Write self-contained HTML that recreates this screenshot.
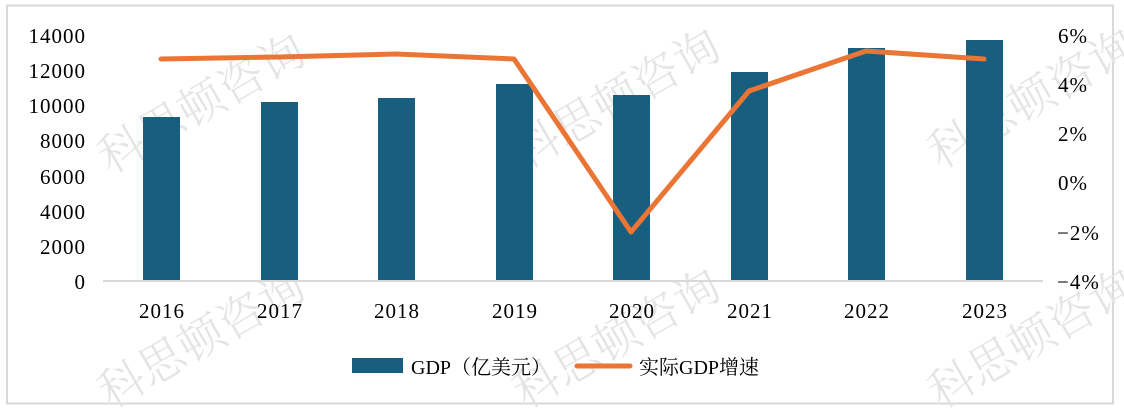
<!DOCTYPE html>
<html><head><meta charset="utf-8"><style>
html,body{margin:0;padding:0;background:#fff;}
svg{display:block;}
.t{font-family:"Liberation Serif","Noto Serif CJK SC",serif;font-size:21px;fill:#000;letter-spacing:1px;}
.l{font-family:"Liberation Serif","Noto Serif CJK SC",serif;font-size:20px;fill:#000;}
.w{font-family:"Noto Serif CJK SC","Noto Sans CJK SC",serif;font-size:46px;fill:#e4e4e4;font-weight:300;}
</style></head><body>
<svg width="1124" height="412" xmlns="http://www.w3.org/2000/svg">
<rect x="7" y="5.5" width="1106" height="398" fill="#fff" stroke="#d9d9d9" stroke-width="2"/>
<g>
<text class="w" transform="translate(110,175) rotate(-30)">科思顿咨询</text>
<text class="w" transform="translate(525,170) rotate(-30)">科思顿咨询</text>
<text class="w" transform="translate(940,170) rotate(-30)">科思顿咨询</text>
<text class="w" transform="translate(110,410) rotate(-30)">科思顿咨询</text>
<text class="w" transform="translate(525,410) rotate(-30)">科思顿咨询</text>
<text class="w" transform="translate(940,410) rotate(-30)">科思顿咨询</text>
</g>
<g fill="#175e7f">
<rect x="143" y="117" width="37" height="164"/>
<rect x="261" y="102" width="37" height="179"/>
<rect x="378" y="98" width="37" height="183"/>
<rect x="496" y="84" width="37" height="197"/>
<rect x="613" y="95" width="37" height="186"/>
<rect x="731" y="72" width="37" height="209"/>
<rect x="848" y="48" width="37" height="233"/>
<rect x="966" y="40" width="37" height="241"/>
</g>
<line x1="103" y1="281" x2="1043" y2="281" stroke="#d9d9d9" stroke-width="2"/>
<polyline points="161,59 279,57 396,54 514,59 631,232 749,91 866,51 984,59" fill="none" stroke="#ea7535" stroke-width="5" stroke-linejoin="round" stroke-linecap="round"/>
<g class="t" text-anchor="end">
<text x="86" y="43">14000</text>
<text x="86" y="78">12000</text>
<text x="86" y="113">10000</text>
<text x="86" y="148">8000</text>
<text x="86" y="184">6000</text>
<text x="86" y="219">4000</text>
<text x="86" y="254">2000</text>
<text x="86" y="289">0</text>
</g>
<g class="t">
<text x="1058" y="43">6%</text>
<text x="1058" y="92">4%</text>
<text x="1058" y="141">2%</text>
<text x="1058" y="190">0%</text>
<text x="1057" y="240">−2%</text>
<text x="1057" y="289">−4%</text>
</g>
<g class="t" text-anchor="middle">
<text x="162" y="318">2016</text>
<text x="280" y="318">2017</text>
<text x="397" y="318">2018</text>
<text x="515" y="318">2019</text>
<text x="632" y="318">2020</text>
<text x="750" y="318">2021</text>
<text x="867" y="318">2022</text>
<text x="985" y="318">2023</text>
</g>
<rect x="352" y="358" width="51" height="15" fill="#175e7f"/>
<text class="l" x="411" y="374">GDP（亿美元）</text>
<line x1="577" y1="366" x2="630" y2="366" stroke="#ea7535" stroke-width="5" stroke-linecap="round"/>
<text class="l" x="639" y="374">实际GDP增速</text>
</svg>
</body></html>
